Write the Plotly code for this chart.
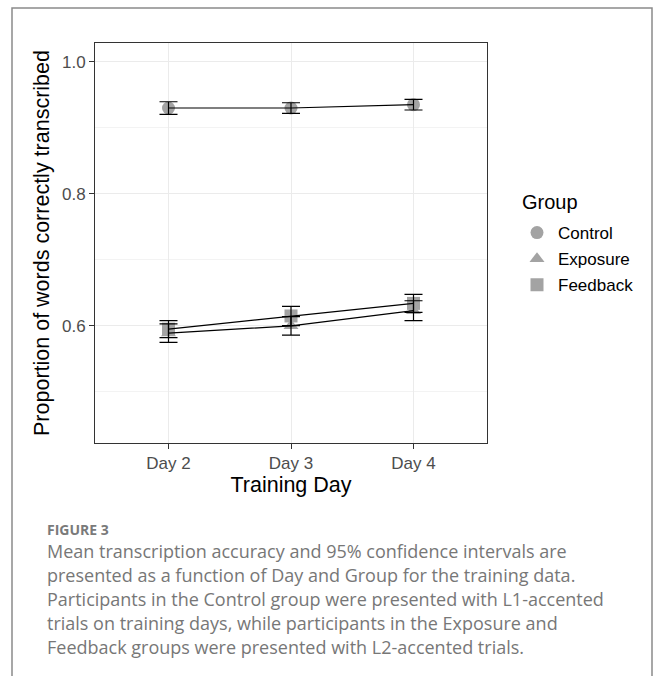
import plotly.graph_objects as go

days = ["Day 2", "Day 3", "Day 4"]
groups = ["Control", "Exposure", "Feedback"]
symbols = ["circle", "triangle-up", "square"]
means = {
    "Control": [0.930, 0.930, 0.935],
    "Exposure": [0.589, 0.600, 0.623],
    "Feedback": [0.595, 0.615, 0.634],
}
ci = {
    "Control": [0.0095, 0.008, 0.008],
    "Exposure": [0.014, 0.014, 0.015],
    "Feedback": [0.013, 0.0146, 0.0136],
}
legend_title = "Group"
caption_label = "FIGURE 3"
caption_lines = [
    "Mean transcription accuracy and 95% confidence intervals are",
    "presented as a function of Day and Group for the training data.",
    "Participants in the Control group were presented with L1-accented",
    "trials on training days, while participants in the Exposure and",
    "Feedback groups were presented with L2-accented trials.",
]

W, H = 656, 676
L, R, T, B = 95, 487, 43, 443  # page pixel coordinates of plot area
pw, ph = R - L, B - T

def px(x):
    return (x - L) / pw

def py(y):
    return (B - y) / ph

xs = [1, 2, 3]
fig = go.Figure()
for g, s in zip(groups, symbols):
    fig.add_trace(go.Scatter(
        x=xs, y=means[g], mode="markers", name=g,
        marker=dict(symbol=s, size=13, color="#a3a3a3"),
        legendgroup=g, showlegend=True,
    ))
for g in groups:
    fig.add_trace(go.Scatter(
        x=xs, y=means[g], mode="lines", name=g, showlegend=False,
        line=dict(color="black", width=1.2),
        error_y=dict(type="data", array=ci[g], visible=True,
                     color="black", thickness=1.2, width=9),
        hoverinfo="skip",
    ))

annotations = [
    dict(
        xref="paper", yref="paper", x=px(520), y=py(202), xanchor="left", yanchor="middle",
        text=legend_title, showarrow=False, font=dict(size=20, color="black"),
    ),
    dict(
        xref="paper", yref="paper", x=px(45), y=py(529), xanchor="left", yanchor="middle",
        text="<b>" + caption_label + "</b>", showarrow=False,
        font=dict(family="Open Sans", size=14, color="#7a7a7a"),
    ),
]
for i, line in enumerate(caption_lines):
    annotations.append(dict(
        xref="paper", yref="paper", x=px(45), y=py(551 + 24 * i),
        xanchor="left", yanchor="middle", text=line, showarrow=False,
        font=dict(family="Open Sans", size=18, color="#777777"),
    ))

fig.update_layout(
    width=W, height=H,
    margin=dict(l=L, r=W - R, t=T, b=H - B, pad=0),
    paper_bgcolor="white", plot_bgcolor="white",
    font=dict(family="Liberation Sans, Arial", color="black"),
    xaxis=dict(
        range=[0.4, 3.6], tickvals=xs, ticktext=days,
        showgrid=True, gridcolor="#ebebeb", gridwidth=1.2,
        showline=True, linecolor="#333333", linewidth=1, mirror=True,
        ticks="outside", ticklen=5, tickcolor="#333333",
        tickfont=dict(size=17, color="#4d4d4d"),
        title=dict(text="Training Day", font=dict(size=21.5), standoff=2),
        zeroline=False,
    ),
    yaxis=dict(
        range=[0.4225, 1.0285], tickvals=[0.6, 0.8, 1.0], ticktext=["0.6", "0.8", "1.0"],
        showgrid=True, gridcolor="#ebebeb", gridwidth=1.2,
        minor=dict(tickvals=[0.5, 0.7, 0.9], showgrid=True, gridcolor="#f3f3f3", gridwidth=0.8, ticks=""),
        showline=True, linecolor="#333333", linewidth=1, mirror=True,
        ticks="outside", ticklen=5, tickcolor="#333333",
        tickfont=dict(size=17, color="#4d4d4d"),
        title=dict(text="Proportion of words correctly transcribed", font=dict(size=21.5), standoff=6),
        zeroline=False,
    ),
    legend=dict(
        x=px(516), y=py(215), xanchor="left", yanchor="top",
        font=dict(size=17), bgcolor="rgba(0,0,0,0)", tracegroupgap=1,
        itemwidth=32,
    ),
    shapes=[dict(
        type="rect", xref="paper", yref="paper",
        x0=px(12), x1=px(652), y0=py(8), y1=py(690),
        line=dict(color="#8a8a8a", width=1.5), fillcolor="rgba(0,0,0,0)", layer="below",
    )],
    annotations=annotations,
)

fig.write_html(
    "out.html",
    config={"displayModeBar": False},
    post_script="document.body.style.margin='0';document.body.style.overflow='hidden';",
)
